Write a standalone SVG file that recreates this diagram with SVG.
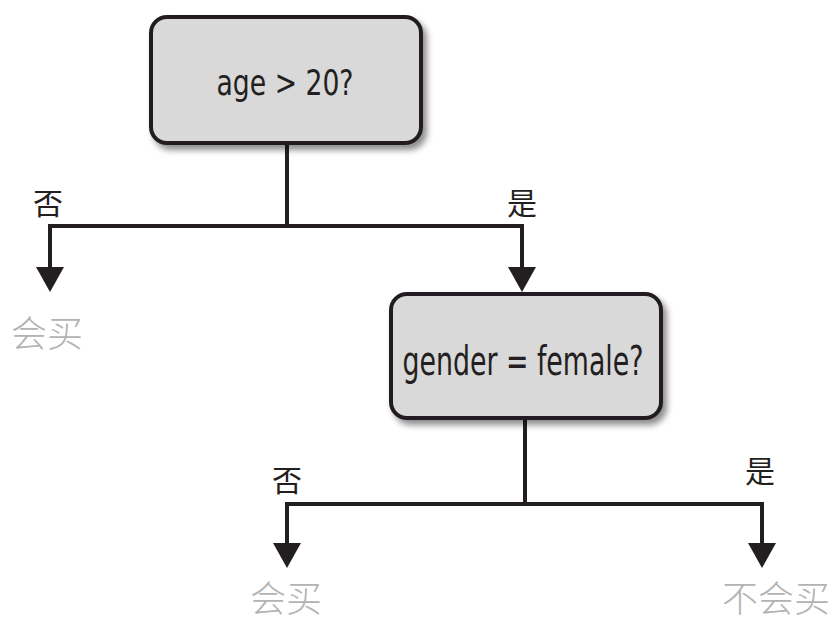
<svg xmlns="http://www.w3.org/2000/svg" width="840" height="623" viewBox="0 0 840 623">
<defs>
<filter id="sh" x="-10%" y="-10%" width="130%" height="140%">
<feDropShadow dx="4" dy="5" stdDeviation="3" flood-color="#000" flood-opacity="0.45"/>
</filter>
<style>
.box{fill:#d9d9d9;stroke:#231f20;stroke-width:4;filter:url(#sh)}
.lbl{font-family:"Liberation Sans Narrow","DejaVu Sans Condensed","Liberation Sans",sans-serif;fill:#231f20;text-anchor:middle}
.cn{font-family:"Noto Sans CJK SC",sans-serif;fill:#231f20;font-size:30px;text-anchor:middle}
.res{font-family:"Noto Sans CJK SC",sans-serif;fill:#b3b3b3;font-size:36px;font-weight:300}
.ln{fill:none;stroke:#231f20;stroke-width:4}
.ah{fill:#231f20}
</style>
</defs>
<rect width="840" height="623" fill="#fff"/>
<g id="connectors">
<polyline class="ln" points="287,143 287,226"/>
<polyline class="ln" points="50,270 50,226 522,226 522,270"/>
<polygon class="ah" points="36,267 64,267 50,292"/>
<polygon class="ah" points="508,267 536,267 522,292"/>
<polyline class="ln" points="525,418 525,504"/>
<polyline class="ln" points="287,545 287,504 762,504 762,545"/>
<polygon class="ah" points="273,543 301,543 287,568"/>
<polygon class="ah" points="748,543 776,543 762,568"/>
</g>
<g id="node-age">
<rect class="box" x="151" y="17" width="270" height="126" rx="16"/>
<text class="lbl" x="285" y="95" font-size="36" textLength="137" lengthAdjust="spacingAndGlyphs">age &gt; 20?</text>
</g>
<g id="node-gender">
<rect class="box" x="391" y="294" width="270" height="124" rx="16"/>
<text class="lbl" x="523" y="375" font-size="40" textLength="241" lengthAdjust="spacingAndGlyphs">gender = female?</text>
</g>
<g id="label-no1"><text class="cn" x="48" y="214">否</text></g>
<g id="label-yes1"><text class="cn" x="522" y="214">是</text></g>
<g id="label-no2"><text class="cn" x="287" y="491">否</text></g>
<g id="label-yes2"><text class="cn" x="760" y="482">是</text></g>
<g id="leaf1"><text class="res" x="11" y="347">会买</text></g>
<g id="leaf2"><text class="res" x="250" y="612">会买</text></g>
<g id="leaf3"><text class="res" x="722" y="612">不会买</text></g>
</svg>
